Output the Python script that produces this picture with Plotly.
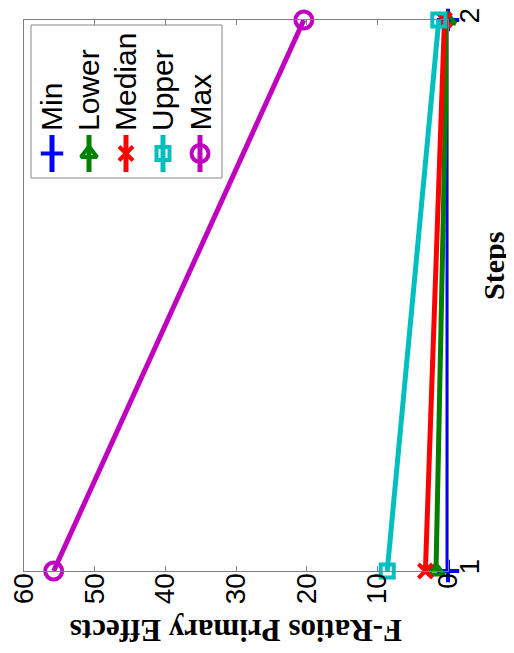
import plotly.graph_objects as go

steps = [1, 2]
series_names = ["Min", "Lower", "Median", "Upper", "Max"]
min_vals = [0.0, 0.0]
lower_vals = [1.7, 0.1]
median_vals = [3.2, 0.5]
upper_vals = [8.6, 1.3]
max_vals = [55.8, 20.4]
x_ticks = [0, 10, 20, 30, 40, 50, 60]
y_ticks = [1, 2]

colors = ["#0000FF", "#008000", "#FF0000", "#00BFBF", "#BF00BF"]
symbols = ["cross-thin-open", "triangle-up-open", "x-thin-open", "square-open", "circle-open"]
sizes = [16, 14, 14, 13, 17]
all_vals = [min_vals, lower_vals, median_vals, upper_vals, max_vals]

OFF = 8  # page body margin
W, H = 514 - OFF, 653 - OFF
# plot area in reference-image pixels
L, R, T, B = 24, 448, 20, 571

def px(x):
    return (x - L) / (R - L)

def py(y):
    return (B - y) / (B - T)

fig = go.Figure()
for name, vals, c, s, sz in zip(series_names, all_vals, colors, symbols, sizes):
    fig.add_trace(go.Scatter(
        x=vals, y=steps, mode="lines+markers", name=name,
        line=dict(color=c, width=5),
        marker=dict(symbol=s, size=sz, color=c, line=dict(width=4, color=c)),
        showlegend=False, cliponaxis=False,
    ))

# custom rotated legend (glyphs on an overlay pixel axis)
leg_x = [52, 89, 126, 163, 200]
for name, c, s, sz, lx in zip(series_names, colors, symbols, sizes, leg_x):
    fig.add_trace(go.Scatter(
        x=[lx, lx], y=[135, 172], mode="lines", xaxis="x2", yaxis="y2",
        line=dict(color=c, width=5), showlegend=False, hoverinfo="skip",
    ))
    fig.add_trace(go.Scatter(
        x=[lx], y=[153.5], mode="markers", xaxis="x2", yaxis="y2",
        marker=dict(symbol=s, size=sz, color=c, line=dict(width=4, color=c)),
        showlegend=False, hoverinfo="skip",
    ))
    fig.add_annotation(
        x=px(lx), y=py(133), xref="paper", yref="paper", text=name,
        textangle=-90, showarrow=False, xanchor="center", yanchor="bottom",
        font=dict(family="Liberation Sans, Arial", size=30, color="black"),
    )

fig.add_shape(type="rect", xref="paper", yref="paper",
              x0=px(31), x1=px(222), y0=py(25), y1=py(178),
              line=dict(color="#888888", width=1), fillcolor="white", layer="below")

fig.add_annotation(
    x=px(236), y=py(631), xref="paper", yref="paper",
    text="<b>F-Ratios Primary Effects</b>", textangle=180, showarrow=False,
    xanchor="center", yanchor="middle",
    font=dict(family="Liberation Serif, Times New Roman", size=31, color="black"),
)
fig.add_annotation(
    x=px(493), y=py(266), xref="paper", yref="paper",
    text="<b>Steps</b>", textangle=-90, showarrow=False,
    xanchor="center", yanchor="middle",
    font=dict(family="Liberation Serif, Times New Roman", size=30, color="black"),
)

axis_common = dict(
    showgrid=False, zeroline=False, showline=True, linecolor="#808080", linewidth=1,
    mirror="ticks", ticks="inside", ticklen=5, tickcolor="#808080",
    tickfont=dict(family="Liberation Sans, Arial", size=28, color="black"),
    tickangle=-90, automargin=False,
)
fig.update_layout(
    width=W, height=H,
    margin=dict(l=L - OFF, r=514 - R, t=T - OFF, b=653 - B, autoexpand=False),
    paper_bgcolor="white", plot_bgcolor="white",
    xaxis=dict(range=[60, 0], tickvals=x_ticks, ticklabelstandoff=-10, **axis_common),
    yaxis=dict(range=[1, 2], tickvals=y_ticks, side="right", ticklabelstandoff=-4, **axis_common),
    xaxis2=dict(range=[L, R], overlaying="x", visible=False, fixedrange=True),
    yaxis2=dict(range=[B, T], overlaying="y", visible=False, fixedrange=True),
)

fig.write_html("out.html")
